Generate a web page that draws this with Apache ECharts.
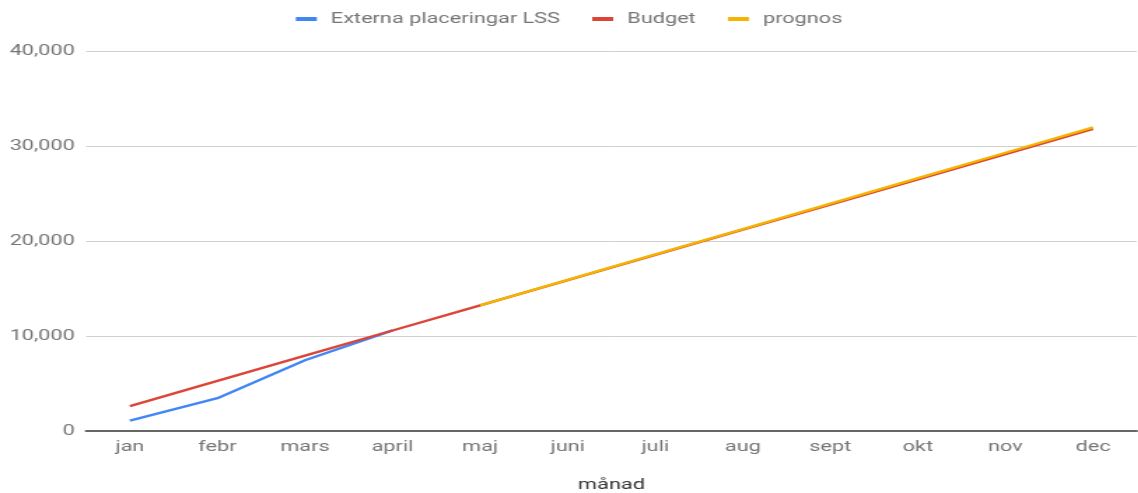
<!DOCTYPE html>
<html>
<head>
<meta charset="utf-8">
<script src="https://cdn.jsdelivr.net/npm/echarts@6/dist/echarts.min.js"></script>
<style>
  html, body { margin: 0; padding: 0; background: #fff; overflow: hidden; }
  /* originalbilden är utdragen på bredden, därför ritas diagrammet smalare och skalas ut */
  #chart { width: 813px; height: 493px; transform: scaleX(1.4); transform-origin: 0 0; }
</style>
</head>
<body>
<div id="chart"></div>
<script>
// månader och värden
const months = ['jan', 'febr', 'mars', 'april', 'maj', 'juni', 'juli', 'aug', 'sept', 'okt', 'nov', 'dec'];
const externa = [1100, 3450, 7450, 10600, null, null, null, null, null, null, null, null];
const budget = [2630, 5280, 7930, 10580, 13230, 15880, 18530, 21190, 23840, 26490, 29140, 31790];
const prognos = [null, null, null, null, 13230, 15910, 18590, 21260, 23940, 26620, 29290, 31970];
const yTicks = [0, 10000, 20000, 30000, 40000];

const textColor = '#757575';
const font = 'Roboto';

const chart = echarts.init(document.getElementById('chart'));

function lineSeries(name, data, color) {
  return {
    name: name,
    type: 'line',
    data: data,
    symbol: 'none',
    connectNulls: false,
    lineStyle: { color: color, width: 2.4 },
    itemStyle: { color: color },
    emphasis: { disabled: true }
  };
}

chart.setOption({
  animation: false,
  legend: {
    top: 6,
    left: 'center',
    itemWidth: 15,
    itemHeight: 4,
    itemGap: 23,
    icon: 'rect',
    textStyle: { color: textColor, fontSize: 15.5, fontFamily: font, padding: [0, 0, 0, 5] },
    data: ['Externa placeringar LSS', 'Budget', 'prognos']
  },
  grid: { left: 61.5, right: 1, top: 51, bottom: 62, outerBoundsMode: 'none' },
  xAxis: {
    type: 'category',
    data: months,
    boundaryGap: true,
    name: 'månad',
    nameLocation: 'middle',
    nameGap: 46,
    nameTextStyle: { color: '#333', fontSize: 15.5, fontFamily: font },
    axisLine: { lineStyle: { color: '#666', width: 2 } },
    axisTick: { show: false },
    axisLabel: { color: textColor, fontSize: 15.5, fontFamily: font, margin: 8 }
  },
  yAxis: {
    type: 'value',
    min: yTicks[0],
    max: yTicks[yTicks.length - 1],
    interval: 10000,
    axisLine: { show: false },
    axisTick: { show: false },
    splitLine: { lineStyle: { color: '#d0d0d0', width: 1 } },
    axisLabel: {
      color: textColor,
      fontSize: 15.5,
      fontFamily: font,
      margin: 8,
      formatter: v => v.toLocaleString('en-US')
    }
  },
  series: [
    lineSeries('Externa placeringar LSS', externa, '#4285F4'),
    lineSeries('Budget', budget, '#DB4437'),
    lineSeries('prognos', prognos, '#F4B400')
  ]
});
</script>
</body>
</html>
